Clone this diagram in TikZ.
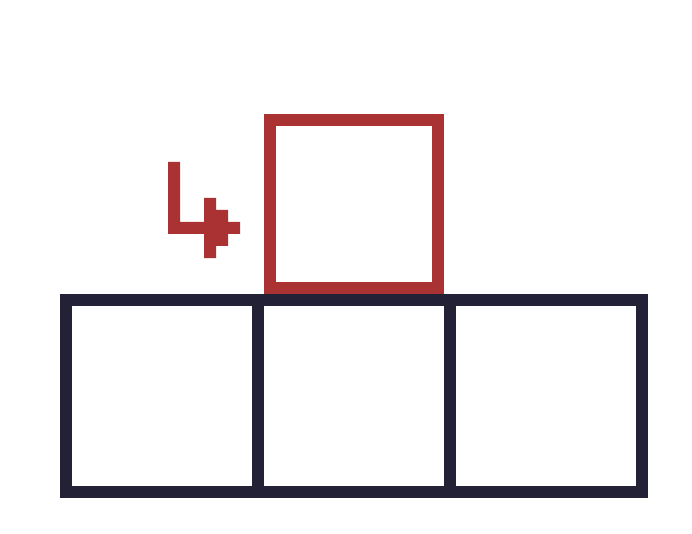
\documentclass[tikz,border=0pt]{standalone}
\usepackage{xcolor}
\usepackage{tikz}
\usetikzlibrary{positioning}
\definecolor{boxred}{HTML}{AB3232}
\definecolor{boxnavy}{HTML}{232136}
\tikzstyle{cell} = [draw=boxnavy, line width=12pt, rectangle,
    minimum width=192pt, minimum height=192pt, inner sep=0pt, outer sep=0pt]
\tikzstyle{newcell} = [draw=boxred, line width=12pt, rectangle,
    minimum width=168pt, minimum height=168pt, inner sep=0pt, outer sep=0pt]
\begin{document}
\begin{tikzpicture}[x=1pt, y=-1pt]
    \useasboundingbox (0,0) rectangle (692,534);
    \node [cell] (first) at (162,396) {};
    \node [cell, right=0pt of first] (second) {};
    \node [cell, right=0pt of second] (third) {};
    \node [newcell, above=12pt of second] (pushed) {};
    % pixel arrow
    \coordinate (hook) at (168,162);
    \fill [boxred, shift={(hook)}] (0,0) -- (12,0) -- (12,60) -- (36,60)
        -- (36,36) -- (48,36) -- (48,48) -- (60,48) -- (60,60) -- (72,60)
        -- (72,72) -- (60,72) -- (60,84) -- (48,84) -- (48,96) -- (36,96)
        -- (36,72) -- (0,72) -- cycle;
\end{tikzpicture}
\end{document}
